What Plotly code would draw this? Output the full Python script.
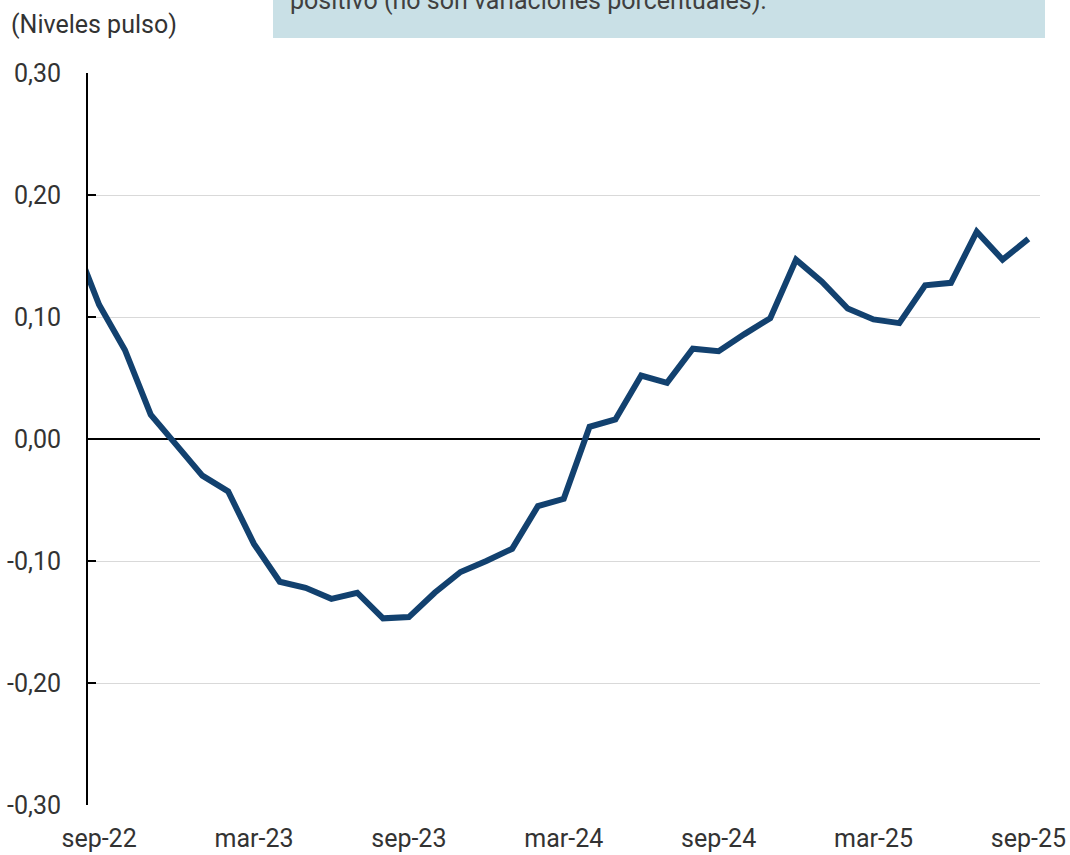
import plotly.graph_objects as go

# monthly index, aug-22 (clipped at left edge) .. sep-25
months = ["ago-22", "sep-22", "oct-22", "nov-22", "dic-22", "ene-23", "feb-23", "mar-23",
          "abr-23", "may-23", "jun-23", "jul-23", "ago-23", "sep-23", "oct-23", "nov-23",
          "dic-23", "ene-24", "feb-24", "mar-24", "abr-24", "may-24", "jun-24", "jul-24",
          "ago-24", "sep-24", "oct-24", "nov-24", "dic-24", "ene-25", "feb-25", "mar-25",
          "abr-25", "may-25", "jun-25", "jul-25", "ago-25", "sep-25"]
pulso = [0.164, 0.110, 0.073, 0.020, -0.005, -0.030, -0.043, -0.086,
         -0.117, -0.122, -0.131, -0.126, -0.147, -0.146, -0.126, -0.109,
         -0.100, -0.090, -0.055, -0.049, 0.010, 0.016, 0.052, 0.046,
         0.074, 0.072, 0.086, 0.099, 0.147, 0.129, 0.107, 0.098,
         0.095, 0.126, 0.128, 0.170, 0.147, 0.164]
tick_labels = ["sep-22", "mar-23", "sep-23", "mar-24", "sep-24", "mar-25", "sep-25"]
y_ticks = [-0.3, -0.2, -0.1, 0.0, 0.1, 0.2, 0.3]

x = list(range(-1, len(months) - 1))
tick_pos = [months.index(t) - 1 for t in tick_labels]

fig = go.Figure()
fig.add_trace(go.Scatter(x=x, y=pulso, mode="lines",
                         line=dict(color="#12416f", width=6), showlegend=False))

fig.update_layout(
    width=1070, height=855,
    margin=dict(l=88, r=30, t=73, b=50),
    paper_bgcolor="white", plot_bgcolor="white",
    font=dict(family="Roboto", size=25, color="#333333"),
    xaxis=dict(range=[-0.43, 36.45], tickvals=tick_pos, ticktext=tick_labels,
               showgrid=False, zeroline=False, showline=False, ticks="",
               ticklabelstandoff=16, automargin=False),
    yaxis=dict(range=[-0.3, 0.3], tickvals=y_ticks,
               ticktext=[f"{v:.2f}".replace(".", ",") for v in y_ticks],
               showgrid=True, gridcolor="#d9d9d9", gridwidth=1,
               zeroline=True, zerolinecolor="#000000", zerolinewidth=2,
               showline=True, linecolor="#000000", linewidth=2,
               ticks="inside", ticklen=8, tickwidth=2, tickcolor="#000000",
               ticklabelstandoff=20, automargin=False),
)

fig.add_shape(type="rect", xref="paper", yref="paper",
              x0=(273 - 88) / 952, x1=(1045 - 88) / 952,
              y0=(805 - 38) / 732, y1=(805 + 5) / 732,
              fillcolor="#c9e0e6", line=dict(width=0), layer="below")
fig.add_annotation(xref="paper", yref="paper", x=(288 - 88) / 952, y=(805 - 0) / 732,
                   xanchor="left", yanchor="middle", showarrow=False,
                   text="positivo (no son variaciones porcentuales).",
                   font=dict(size=25, color="#404040"))
fig.add_annotation(xref="paper", yref="paper", x=(9 - 88) / 952, y=(805 - 25) / 732,
                   xanchor="left", yanchor="middle", showarrow=False,
                   text="(Niveles pulso)", font=dict(size=25, color="#333333"))

page_js = ("document.documentElement.style.overflow='hidden';"
           "document.body.style.margin='0';"
           "document.body.style.overflow='hidden';")
fig.write_html("out.html", config={"displayModeBar": False}, post_script=page_js)
